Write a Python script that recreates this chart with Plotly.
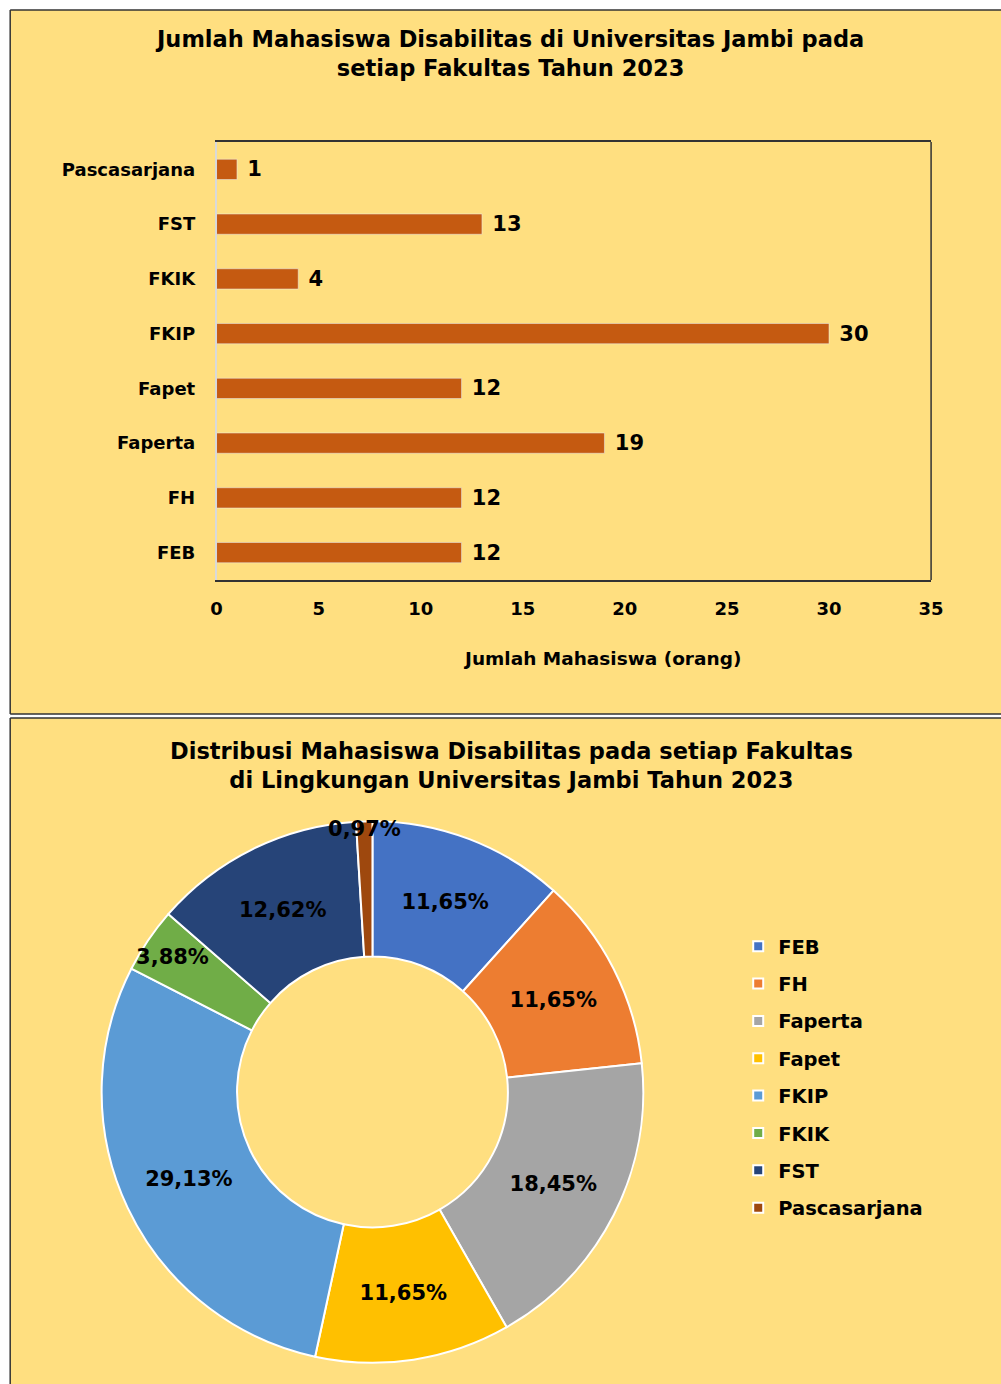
import plotly.graph_objects as go

faculties = ["FEB", "FH", "Faperta", "Fapet", "FKIP", "FKIK", "FST", "Pascasarjana"]
students = [12, 12, 19, 12, 30, 4, 13, 1]
pie_colors = ["#4472C4", "#ED7D31", "#A5A5A5", "#FFC000", "#5B9BD5", "#70AD47", "#264478", "#9E480E"]
x_ticks = [0, 5, 10, 15, 20, 25, 30, 35]

bar_title = "Jumlah Mahasiswa Disabilitas di Universitas Jambi pada<br>setiap Fakultas Tahun 2023"
pie_title = "Distribusi Mahasiswa Disabilitas pada setiap Fakultas<br>di Lingkungan Universitas Jambi Tahun 2023"
x_title = "Jumlah Mahasiswa (orang)"

# The photographed page is squeezed horizontally (about 0.982 with a ~4px shift),
# so layout positions are given in picture pixels and converted here.
W, H = 1019, 1384
SX, OX = 0.982, 4.3
FONT = "DejaVu Sans"
def px(x): return ((x - OX) / SX) / W
def py(y): return 1 - y / H

fig = go.Figure()

fig.add_trace(go.Bar(
    x=students, y=faculties, orientation="h",
    marker=dict(color="#C55A11"), width=0.37,
    text=students, texttemplate="\u00a0%{x}", textposition="outside", cliponaxis=False,
    textfont=dict(family=FONT, size=18, color="black", weight="bold"),
    showlegend=False, hoverinfo="x+y",
))

fig.add_trace(go.Pie(
    labels=faculties, values=students, hole=0.5, sort=False,
    direction="clockwise", rotation=0,
    marker=dict(colors=pie_colors, line=dict(color="white", width=2)),
    texttemplate="%{percent:.2%}", textposition="inside",
    insidetextorientation="horizontal",
    textfont=dict(family=FONT, size=21, color="black", weight="bold"),
    domain=dict(x=[px(100), px(642)], y=[py(1363), py(821)]),
    showlegend=False,
))

for name, col in zip(faculties, pie_colors):
    fig.add_trace(go.Scatter(
        x=[None], y=[None], mode="markers", name=name, legendgroup=name,
        marker=dict(symbol="square", size=10, color=col, line=dict(color="white", width=2)),
        xaxis="x2", yaxis="y2", showlegend=True,
    ))

BORDER = dict(color="#333333", width=1.5)
fig.update_layout(
    width=W, height=H, autosize=False,
    margin=dict(l=0, r=0, t=0, b=0),
    paper_bgcolor="white",
    plot_bgcolor="#FDD598",
    separators=",.",
    font=dict(family=FONT, color="black"),
    uniformtext=dict(minsize=21, mode="show"),
    xaxis=dict(domain=[px(215), px(930)], range=[0, 35], tickvals=x_ticks,
               showgrid=False, zeroline=False, showline=True, linecolor="#333333", linewidth=1.5,
               mirror=True, ticks="", ticklabelstandoff=12,
               tickfont=dict(family=FONT, size=18, color="black", weight="bold"),
               anchor="y", fixedrange=True),
    yaxis=dict(domain=[py(580), py(142)], showgrid=False, zeroline=False,
               showline=True, linecolor="#D9D9D9", linewidth=1.5, ticks="",
               ticklabelstandoff=16, type="category",
               tickfont=dict(family=FONT, size=18, color="black", weight="bold"),
               anchor="x", fixedrange=True),
    xaxis2=dict(domain=[0.9, 0.95], visible=False, anchor="y2"),
    yaxis2=dict(domain=[0.05, 0.1], visible=False, anchor="x2"),
    legend=dict(x=px(737), y=py(927), xanchor="left", yanchor="top",
                bgcolor="rgba(0,0,0,0)", tracegroupgap=9, itemwidth=30,
                font=dict(family=FONT, size=19.5, color="black", weight="bold")),
    shapes=[
        dict(type="rect", xref="paper", yref="paper", x0=px(8.5), x1=1, y0=py(714), y1=py(10),
             fillcolor="#FFDF80", line=dict(width=0), layer="below"),
        dict(type="rect", xref="paper", yref="paper", x0=px(8.5), x1=1, y0=0, y1=py(718),
             fillcolor="#FFDF80", line=dict(width=0), layer="below"),
        dict(type="line", xref="paper", yref="paper", x0=px(8.5), x1=1, y0=py(10), y1=py(10), line=BORDER),
        dict(type="line", xref="paper", yref="paper", x0=px(8.5), x1=1, y0=py(714), y1=py(714), line=BORDER),
        dict(type="line", xref="paper", yref="paper", x0=px(8.5), x1=px(8.5), y0=py(714), y1=py(10), line=BORDER),
        dict(type="line", xref="paper", yref="paper", x0=px(8.5), x1=1, y0=py(718), y1=py(718), line=BORDER),
        dict(type="line", xref="paper", yref="paper", x0=px(8.5), x1=px(8.5), y0=0, y1=py(718), line=BORDER),
        dict(type="line", xref="paper", yref="paper", x0=px(930), x1=px(930), y0=py(580), y1=py(142),
             line=BORDER),
    ],
    annotations=[
        dict(text=bar_title, xref="paper", yref="paper", x=px(508), y=py(54), xanchor="center",
             yanchor="middle", showarrow=False,
             font=dict(family=FONT, size=22.5, color="black", weight="bold")),
        dict(text=x_title, xref="paper", yref="paper", x=px(601), y=py(658), xanchor="center",
             yanchor="middle", showarrow=False,
             font=dict(family=FONT, size=18.5, color="black", weight="bold")),
        dict(text=pie_title, xref="paper", yref="paper", x=px(510), y=py(765), xanchor="center",
             yanchor="middle", showarrow=False,
             font=dict(family=FONT, size=22.5, color="black", weight="bold")),
    ],
)

fig.write_html("out.html",
               config={"responsive": False, "displayModeBar": False},
               post_script=("document.documentElement.style.overflow='hidden';"
                            "document.body.style.margin='0px';document.body.style.overflow='hidden';"))
